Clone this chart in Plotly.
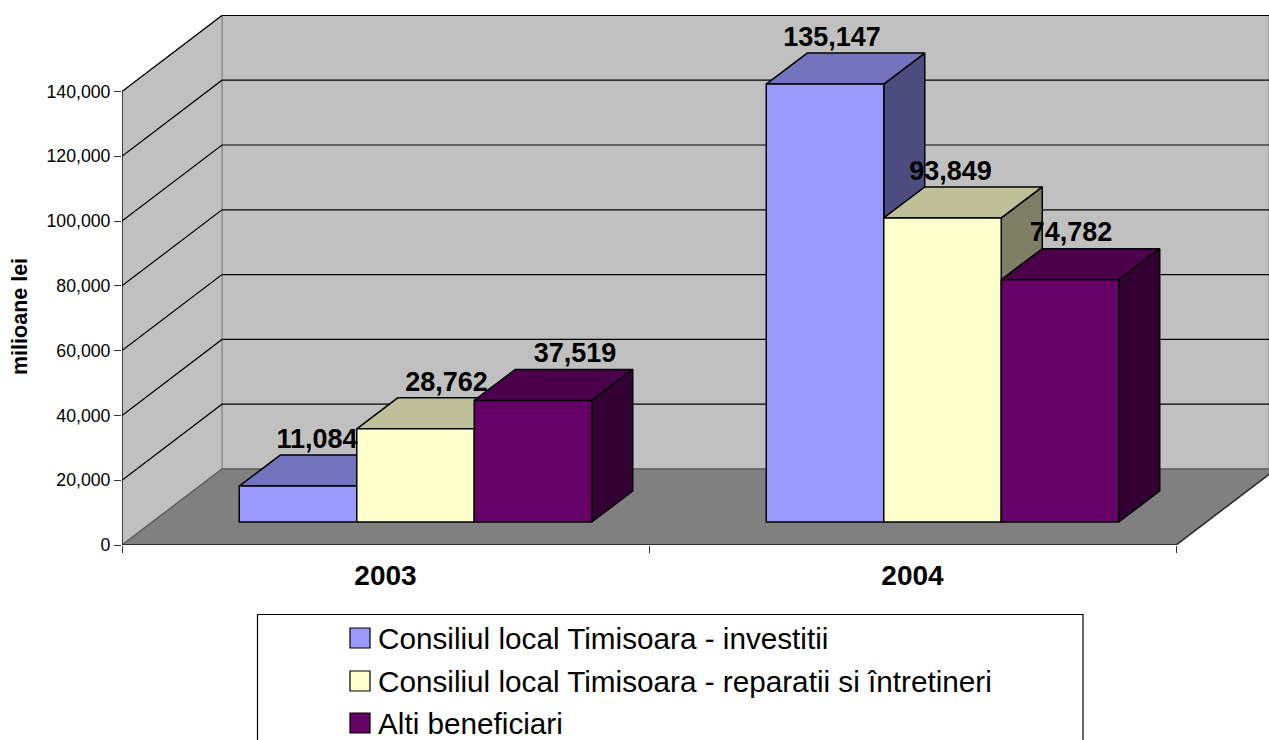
import plotly.graph_objects as go

CATEGORIES = ["2003", "2004"]
SERIES_NAMES = [
    "Consiliul local Timisoara - investitii",
    "Consiliul local Timisoara - reparatii si întretineri",
    "Alti beneficiari",
]
INVESTITII = [11084, 135147]
REPARATII = [28762, 93849]
ALTI = [37519, 74782]
SERIES_VALUES = [INVESTITII, REPARATII, ALTI]
Y_TICKS = [0, 20000, 40000, 60000, 80000, 100000, 120000, 140000]

FRONT = ["#9999FF", "#FFFFCC", "#660066"]
TOP = ["#7373BF", "#BFBF99", "#4C004C"]
SIDE = ["#4C4C7F", "#7F7F66", "#330033"]
FONT = "Liberation Sans, Arial, sans-serif"

# geometry (pixels of the picture -> axis units)
W, H = 1269, 740
L, T, B = 122, 15, 195
PW, PH = W - L, H - T - B
XU = 527.0             # pixels per category
YU = 64.8 / 20000.0    # pixels per value unit
def px(n): return n / XU
def py(n): return n / YU
WALL_X, WALL_Y = px(100), py(76)
FRONT_X, FRONT_Y = px(30), py(23)
BAR_X, BAR_Y = px(41), py(31)
BAR_W = px(117.5)
X_RANGE = [0, PW / XU]
Y_RANGE = [0, PH / YU]
LABEL_SHIFT = [[19, 31, 42], [7, 8, 11]]   # label centre vs bar centre, px

fig = go.Figure()

def poly(xs, ys, fill, line, width=1):
    fig.add_trace(go.Scatter(
        x=xs + xs[:1], y=ys + ys[:1], mode="lines", fill="toself", fillcolor=fill,
        line=dict(color=line, width=width), hoverinfo="skip", showlegend=False,
        cliponaxis=False, xaxis="x", yaxis="y"))

def seg(xs, ys, color, width=1, axis="y"):
    fig.add_trace(go.Scatter(
        x=xs, y=ys, mode="lines", line=dict(color=color, width=width),
        hoverinfo="skip", showlegend=False, cliponaxis=False,
        xaxis="x" if axis == "y" else "x2", yaxis=axis))

n = len(CATEGORIES)
top = Y_TICKS[-1]
right = X_RANGE[1]
# walls and floor
poly([WALL_X, right, right, WALL_X], [WALL_Y, WALL_Y, top + WALL_Y, top + WALL_Y], "#C0C0C0", "#808080")
poly([0, WALL_X, WALL_X, 0], [0, WALL_Y, top + WALL_Y, top], "#C0C0C0", "#808080")
for v in Y_TICKS[1:]:
    seg([0, WALL_X, right], [v, v + WALL_Y, v + WALL_Y], "#000000", 1.2)
poly([0, n, n + WALL_X, WALL_X], [0, 0, WALL_Y, WALL_Y], "#808080", "#606060", 1.5)
seg([0, n], [0, 0], "#303030", 2)
seg([n, n + WALL_X], [0, WALL_Y], "#303030", 1.5)
seg([0, 0], [0, top], "#000000", 1.2)

# tops and sides of the boxes
for c in range(n):
    for s, vals in enumerate(SERIES_VALUES):
        x0 = c + 0.5 + FRONT_X + (s - 1.5) * BAR_W
        x1 = x0 + BAR_W
        y0, y1 = FRONT_Y, FRONT_Y + vals[c]
        poly([x1, x1 + BAR_X, x1 + BAR_X, x1], [y0, y0 + BAR_Y, y1 + BAR_Y, y1], SIDE[s], "#000000", 1.5)
        poly([x0, x1, x1 + BAR_X, x0 + BAR_X], [y1, y1, y1 + BAR_Y, y1 + BAR_Y], TOP[s], "#000000", 1.5)

# front faces
for s, vals in enumerate(SERIES_VALUES):
    fig.add_trace(go.Bar(
        name=SERIES_NAMES[s],
        x=[c + 0.5 + FRONT_X + (s - 1) * BAR_W for c in range(n)],
        y=vals, base=[FRONT_Y] * n, width=BAR_W,
        marker=dict(color=FRONT[s], line=dict(color="#000000", width=1.5)),
        showlegend=False, xaxis="x2", yaxis="y2"))

# value labels
for s, vals in enumerate(SERIES_VALUES):
    fig.add_trace(go.Scatter(
        x=[c + 0.5 + FRONT_X + (s - 1) * BAR_W + px(LABEL_SHIFT[c][s]) for c in range(n)],
        y=[v + FRONT_Y + BAR_Y + py(14) for v in vals],
        text=[f"{v:,}" for v in vals], mode="text", textposition="middle center",
        textfont=dict(family=FONT, size=27, color="#000000", weight="bold"),
        hoverinfo="skip", showlegend=False, cliponaxis=False, xaxis="x2", yaxis="y2"))

def xp(p): return (p - L) / PW
def yp(p): return (H - B - p) / PH

shapes = [dict(type="rect", xref="paper", yref="paper", x0=xp(257.5), x1=xp(1083),
               y0=yp(614.5), y1=yp(760), line=dict(color="#000000", width=1.2), fillcolor="#FFFFFF")]
annotations = [dict(text="<b>milioane lei</b>", textangle=-90, xref="paper", yref="paper",
                    x=xp(20), y=yp(317), xanchor="center", yanchor="middle", showarrow=False,
                    font=dict(family=FONT, size=21.5, color="#000000"))]
for s, name in enumerate(SERIES_NAMES):
    cy = [638, 681, 723][s]
    shapes.append(dict(type="rect", xref="paper", yref="paper", x0=xp(350), x1=xp(370),
                       y0=yp(cy - 10), y1=yp(cy + 10), fillcolor=FRONT[s],
                       line=dict(color="#000000", width=1.2)))
    annotations.append(dict(text=name, xref="paper", yref="paper", x=xp(376), y=yp(cy),
                            xanchor="left", yanchor="middle", showarrow=False,
                            font=dict(family=FONT, size=29.7, color="#000000")))

fig.update_layout(
    width=W, height=H, autosize=False, margin=dict(l=L, r=0, t=T, b=B, pad=0),
    paper_bgcolor="#FFFFFF", plot_bgcolor="#FFFFFF", showlegend=False,
    barmode="overlay", shapes=shapes, annotations=annotations,
    font=dict(family=FONT, color="#000000"),
    xaxis=dict(range=X_RANGE, showgrid=False, zeroline=False, showline=False, automargin=False,
               tickvals=[c + 0.5 for c in range(n)], ticktext=CATEGORIES, ticks="",
               tickfont=dict(family=FONT, size=28, color="#000000", weight="bold"),
               ticklabelstandoff=11,
               minor=dict(ticks="outside", tick0=0, dtick=1, ticklen=7, tickcolor="#333333",
                          tickwidth=1, showgrid=False)),
    yaxis=dict(range=Y_RANGE, showgrid=False, zeroline=False, showline=False, automargin=False,
               tickvals=Y_TICKS, tickformat=",", ticks="outside", ticklen=7, tickcolor="#333333",
               tickwidth=1, tickfont=dict(family=FONT, size=17.7, color="#000000")),
    xaxis2=dict(range=X_RANGE, overlaying="x", visible=False),
    yaxis2=dict(range=Y_RANGE, overlaying="y", visible=False),
)

fig.write_html("out.html", config={"displayModeBar": False},
               post_script="document.body.style.margin='0';document.body.style.overflow='hidden';")
